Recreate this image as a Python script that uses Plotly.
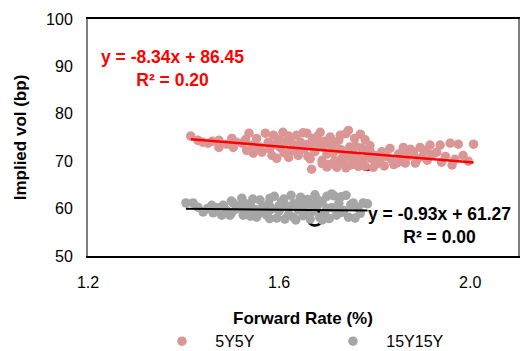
import plotly.graph_objects as go

# ---------------- data ----------------
fwd_5y5y = [1.415, 1.43, 1.44, 1.451, 1.46, 1.474, 1.474, 1.49, 1.501, 1.504, 1.51, 1.522, 1.53, 1.537, 1.532, 1.545, 1.546, 1.553,
            1.56, 1.564, 1.571, 1.577, 1.58, 1.588, 1.59, 1.595, 1.60, 1.602, 1.608, 1.61, 1.615, 1.62, 1.623, 1.625, 1.63, 1.637,
            1.637, 1.64, 1.645, 1.65, 1.652, 1.658, 1.66, 1.665, 1.668, 1.67, 1.675, 1.68, 1.686, 1.69, 1.692, 1.695, 1.70,
            1.705, 1.707, 1.71, 1.713, 1.716, 1.721, 1.725, 1.728, 1.73, 1.734, 1.738, 1.74, 1.745, 1.748, 1.75, 1.755, 1.758,
            1.763, 1.766, 1.77, 1.772, 1.775, 1.78, 1.785, 1.79, 1.792, 1.797, 1.80, 1.805, 1.811, 1.815, 1.82, 1.825, 1.832,
            1.835, 1.84, 1.846, 1.85, 1.855, 1.86, 1.86, 1.864,
            1.87, 1.875, 1.881, 1.885, 1.89, 1.895, 1.90, 1.906, 1.91, 1.916, 1.92, 1.93, 1.937, 1.94, 1.948, 1.958, 1.962,
            1.968, 1.975, 1.985, 1.996, 2.007,
            1.70, 1.72, 1.74, 1.76, 1.73, 1.75, 1.69, 1.65, 1.66, 1.68, 1.72, 1.76, 1.78, 1.79, 1.64, 1.62, 1.585, 1.67, 1.71, 1.755]
vol_5y5y = [75.3, 74.4, 74.0, 73.8, 74.2, 74.4, 72.9, 73.6, 74.8, 72.9, 74.0, 73.8, 74.6, 75.9, 72.3, 73.4, 71.7, 74.8,
            73.0, 71.9, 75.9, 74.0, 72.6, 75.5, 73.5, 70.6, 74.6, 72.9, 76.1, 71.8, 74.2, 75.3, 74.4, 72.2, 73.5, 72.9,
            75.5, 71.2, 74.0, 76.0, 72.5, 75.9, 73.6, 70.5, 68.3, 74.8, 72.0, 75.2, 76.1, 70.2, 72.9, 74.2, 71.5,
            69.3, 75.1, 73.3, 71.7, 70.0, 68.7, 74.4, 75.5, 72.4, 69.8, 71.0, 75.8, 76.5, 73.0, 69.2, 71.5, 74.8,
            70.8, 68.9, 75.7, 72.8, 70.3, 69.0, 71.9, 72.3, 70.6, 68.7, 71.2, 69.5, 70.2, 72.0, 69.0, 71.0, 72.7,
            70.4, 69.3, 69.6, 71.5, 70.0, 72.3, 72.9, 69.6,
            71.0, 72.5, 71.9, 69.6, 70.5, 72.9, 71.0, 72.3, 70.2, 73.4, 71.4, 71.9, 73.4, 69.8, 71.0, 73.8, 69.2,
            70.4, 73.6, 71.2, 70.0, 73.6,
            68.8, 69.0, 68.6, 69.4, 70.5, 70.8, 69.5, 73.0, 71.0, 73.8, 72.6, 73.2, 74.5, 73.3, 73.0, 70.8, 71.2, 73.0, 74.0, 72.5]

fwd_15y15y = [1.405, 1.42, 1.43, 1.441, 1.45, 1.459, 1.462, 1.47, 1.48, 1.483, 1.49, 1.497, 1.50, 1.504, 1.51, 1.515, 1.522,
              1.525, 1.53, 1.535, 1.54, 1.545, 1.55, 1.553, 1.56, 1.565, 1.57, 1.574, 1.578, 1.581, 1.585, 1.59, 1.595, 1.60,
              1.605, 1.61, 1.612, 1.615, 1.62, 1.625, 1.63, 1.635, 1.64, 1.645, 1.65, 1.655, 1.66, 1.665, 1.67, 1.675, 1.68,
              1.685, 1.69, 1.695, 1.70, 1.705, 1.71, 1.715, 1.72, 1.725, 1.73, 1.735, 1.74, 1.745, 1.75, 1.755, 1.759, 1.765,
              1.776, 1.785, 1.77,
              1.56, 1.58, 1.62, 1.64, 1.66, 1.68, 1.70, 1.72, 1.58, 1.54, 1.52, 1.50, 1.63, 1.69, 1.71, 1.60, 1.65, 1.67, 1.73]
vol_15y15y = [61.2, 61.2, 60.3, 59.3, 60.0, 60.7, 59.1, 60.2, 58.6, 60.7, 59.6, 58.6, 61.6, 61.2, 59.9, 60.5, 62.2,
              58.6, 61.0, 59.4, 60.7, 62.0, 59.8, 58.2, 61.8, 60.3, 59.0, 58.6, 61.0, 62.2, 60.0, 62.6, 58.0, 59.5,
              61.4, 62.0, 57.8, 60.5, 58.8, 62.8, 61.0, 57.6, 59.8, 62.4, 58.5, 60.8, 61.9, 57.8, 59.4, 62.9, 60.6,
              58.2, 61.5, 59.0, 62.6, 57.9, 60.2, 62.7, 58.6, 61.1, 62.5, 59.6, 62.8, 58.2, 60.8, 61.2, 58.0, 60.2,
              61.2, 61.0, 59.0,
              59.2, 59.6, 60.0, 61.3, 59.0, 61.9, 60.1, 59.9, 57.9, 58.4, 60.2, 59.0, 58.2, 57.6, 63.1, 60.6, 61.6, 60.9, 59.2]

# current-level points (highlighted rings)
current_fwd = [1.784, 1.675]
current_vol = [69.5, 58.0]

# regression fits (slope, intercept) as shown in the chart
fit_5y5y = (-8.34, 86.45)
fit_15y15y = (-0.93, 61.27)
eq_5y5y = "y = -8.34x + 86.45<br>R² = 0.20"
eq_15y15y = "y = -0.93x + 61.27<br>R² = 0.00"

x_ticks = [1.2, 1.6, 2.0]
series_names = ["5Y5Y", "15Y15Y"]

# ---------------- style ----------------
FONT = "Liberation Sans, Arial, sans-serif"
RED_PT = "#DA9694"
GREY_PT = "#A6A6A6"
PAD = "\u00a0\u00a0\u00a0"

fig = go.Figure()

# rings beneath the scatter
fig.add_trace(go.Scatter(x=[current_fwd[0]], y=[current_vol[0]], mode="markers", showlegend=False, hoverinfo="skip",
                         marker=dict(size=13, color="rgba(0,0,0,0)", line=dict(color="#FF0000", width=2.5))))
fig.add_trace(go.Scatter(x=[current_fwd[1]], y=[current_vol[1]], mode="markers", showlegend=False, hoverinfo="skip",
                         marker=dict(size=15, color="rgba(0,0,0,0)", line=dict(color="#000000", width=2.5))))

fig.add_trace(go.Scatter(x=fwd_5y5y, y=vol_5y5y, mode="markers", name=PAD + series_names[0],
                         marker=dict(size=9.5, color=RED_PT, line=dict(width=0))))
fig.add_trace(go.Scatter(x=fwd_15y15y, y=vol_15y15y, mode="markers", name=PAD + series_names[1],
                         marker=dict(size=9.5, color=GREY_PT, line=dict(width=0))))

# trend lines
def line_pts(xs, fit):
    x0, x1 = min(xs), max(xs)
    return [x0, x1], [fit[0] * x0 + fit[1], fit[0] * x1 + fit[1]]

lx, ly = line_pts(fwd_5y5y, fit_5y5y)
fig.add_trace(go.Scatter(x=lx, y=ly, mode="lines", showlegend=False, hoverinfo="skip",
                         line=dict(color="#FF0000", width=2.5)))
lx, ly = line_pts(fwd_15y15y, fit_15y15y)
fig.add_trace(go.Scatter(x=lx, y=ly, mode="lines", showlegend=False, hoverinfo="skip",
                         line=dict(color="#000000", width=2)))

fig.add_annotation(x=1.376, y=89.6, xref="x", yref="y", text=eq_5y5y, showarrow=False, align="center",
                   font=dict(family=FONT, size=17.5, color="#FF0000", weight="bold"))
fig.add_annotation(x=1.935, y=56.4, xref="x", yref="y", text=eq_15y15y, showarrow=False, align="center",
                   font=dict(family=FONT, size=17.5, color="#000000", weight="bold"))

fig.update_layout(
    width=523, height=351,
    margin=dict(l=88, r=5, t=19, b=95, autoexpand=False),
    paper_bgcolor="white", plot_bgcolor="white",
    font=dict(family=FONT, size=16, color="#000000"),
    showlegend=True,
    legend=dict(orientation="h", x=0.172, xanchor="left", y=-0.36, yanchor="middle",
                font=dict(family=FONT, size=16, color="#000000"), entrywidth=126, itemwidth=30),
)
fig.update_xaxes(range=[1.2, 2.1], tickvals=x_ticks, tickformat=".1f", showgrid=False, zeroline=False,
                 showline=True, linecolor="#000000", linewidth=1.5, mirror=True, ticks="", automargin=False,
                 ticklabelstandoff=11, tickfont=dict(family=FONT, size=16),
                 title=dict(text="<b>Forward Rate (%)</b>", standoff=22, font=dict(family=FONT, size=17)))
fig.update_yaxes(range=[50, 100], dtick=10, showgrid=False, zeroline=False,
                 showline=True, linecolor="#7F7F7F", linewidth=2, mirror=True, ticks="", automargin=False,
                 ticklabelstandoff=10, tickfont=dict(family=FONT, size=16),
                 title=dict(text="<b>Implied vol (bp)</b>", standoff=15, font=dict(family=FONT, size=17)))

fig.write_html("out.html", config={"displayModeBar": False},
               post_script="document.body.style.margin='0';document.body.style.padding='0';")
